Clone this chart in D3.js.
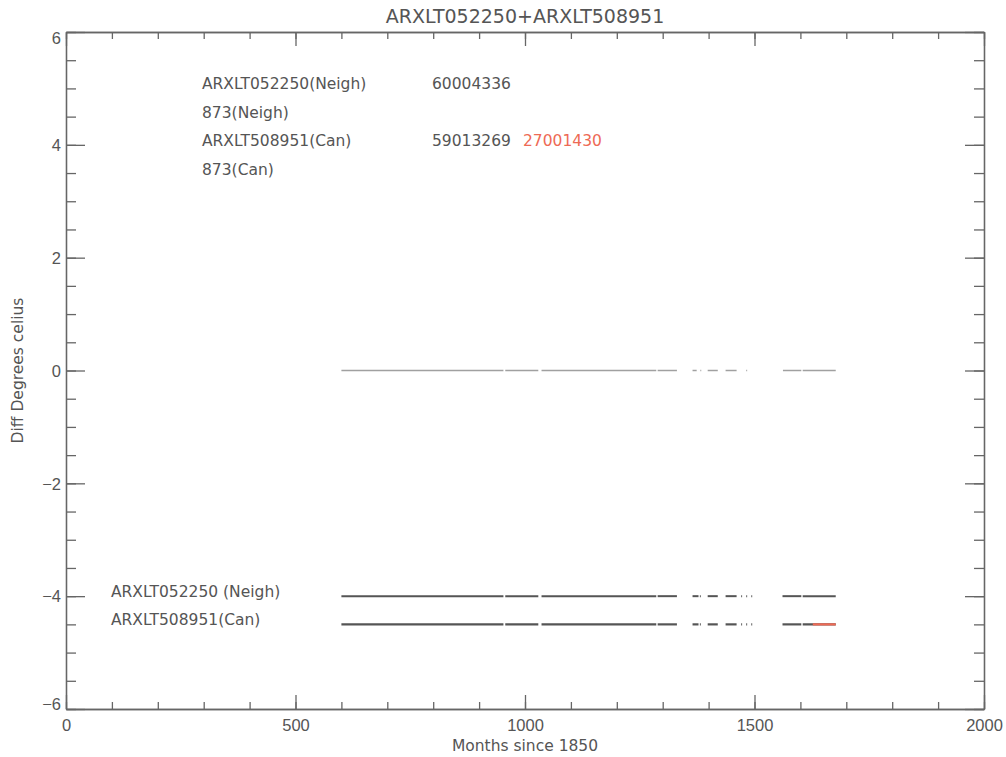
<!DOCTYPE html>
<html>
<head>
<meta charset="utf-8">
<script src="https://cdn.jsdelivr.net/npm/d3@7"></script>
<style>
  body { margin: 0; background: #fff; }
  svg { font-family: "DejaVu Sans", sans-serif; }
  .axis path, .axis line { stroke: #666; stroke-width: 1.3; }
  .axis text { fill: #555; font-size: 16.5px; }
</style>
</head>
<body>
<div id="chart"></div>
<script>
// month ranges with data
const neighSegments = [[600, 953], [957, 1029], [1036, 1286], [1289, 1331], [1365, 1378], [1381, 1383],
    [1398, 1420], [1437, 1461], [1471, 1473], [1482, 1484], [1493, 1495], [1561, 1602], [1605, 1677]];
const canSegments = neighSegments;
const canRedSegments = [[1627, 1677]];
const diffSegments = [[600, 953], [957, 1029], [1036, 1286], [1289, 1331], [1365, 1374], [1382, 1384],
    [1398, 1420], [1437, 1461], [1482, 1484], [1562, 1602], [1605, 1677]];

const levels = { diff: 0, neigh: -4, can: -4.5 };

const xMajor = [0, 500, 1000, 1500, 2000];
const xMinor = d3.range(0, 2001, 100);
const yMajor = [-6, -4, -2, 0, 2, 4, 6];
const yMinor = d3.range(-6, 6.01, 0.5);

const infoRows = [
    ['ARXLT052250(Neigh)', '60004336', ''],
    ['873(Neigh)', '', ''],
    ['ARXLT508951(Can)', '59013269', '27001430'],
    ['873(Can)', '', '']
];
const legendRows = [['ARXLT052250 (Neigh)', levels.neigh], ['ARXLT508951(Can)', levels.can]];

const W = 1006, H = 757;
const margin = { top: 32, right: 22, bottom: 48, left: 66 };
const textColor = '#555';

const svg = d3.select('#chart').append('svg')
    .attr('width', W)
    .attr('height', H);

const x = d3.scaleLinear().domain([0, 2000]).range([margin.left, W - margin.right]);
const y = d3.scaleLinear().domain([-6, 6]).range([H - margin.bottom, margin.top]);

// Axes: ticks point inward, like IDL
function plainAxis(axisFn, scale, values, size, pos) {
    svg.append('g')
        .attr('class', 'axis')
        .attr('transform', pos)
        .call(axisFn(scale).tickValues(values).tickSize(size).tickSizeOuter(0).tickFormat(''));
}

// minor ticks
plainAxis(d3.axisBottom, x, xMinor, -7, `translate(0,${y(-6)})`);
plainAxis(d3.axisTop, x, xMinor, -7, `translate(0,${y(6)})`);
plainAxis(d3.axisLeft, y, yMinor, -10, `translate(${x(0)},0)`);
plainAxis(d3.axisRight, y, yMinor, -10, `translate(${x(2000)},0)`);

// major ticks, no labels on top / right
plainAxis(d3.axisTop, x, xMajor, -14, `translate(0,${y(6)})`);
plainAxis(d3.axisRight, y, yMajor, -19, `translate(${x(2000)},0)`);

svg.append('g')
    .attr('class', 'axis')
    .attr('transform', `translate(0,${y(-6)})`)
    .call(d3.axisBottom(x).tickValues(xMajor).tickSize(-14).tickSizeOuter(0).tickPadding(10)
        .tickFormat(d3.format('d')));

const yAxis = svg.append('g')
    .attr('class', 'axis')
    .attr('transform', `translate(${x(0)},0)`)
    .call(d3.axisLeft(y).tickValues(yMajor).tickSize(-19).tickSizeOuter(0).tickPadding(5)
        .tickFormat(d => d < 0 ? '\u2212' + Math.abs(d) : d));

yAxis.selectAll('.tick text')
    .attr('dy', d => d === 6 ? '0.7em' : d === -6 ? '0.05em' : '0.35em');

// titles
svg.append('text')
    .attr('x', (x(0) + x(2000)) / 2)
    .attr('y', 23)
    .attr('text-anchor', 'middle')
    .style('font-size', '19px')
    .style('fill', textColor)
    .text('ARXLT052250+ARXLT508951');

svg.append('text')
    .attr('x', (x(0) + x(2000)) / 2)
    .attr('y', 751)
    .attr('text-anchor', 'middle')
    .style('font-size', '15.5px')
    .style('fill', textColor)
    .text('Months since 1850');

svg.append('text')
    .attr('transform', `translate(23,${y(0)}) rotate(-90)`)
    .attr('text-anchor', 'middle')
    .style('font-size', '15.5px')
    .style('fill', textColor)
    .text('Diff Degrees celius');

// series lines
const line = d3.line().x(d => x(d[0])).y(d => y(d[1]));

function drawSegments(segs, level, color, width) {
    svg.append('g')
        .selectAll('path')
        .data(segs)
        .join('path')
        .attr('d', s => line([[s[0], level], [s[1], level]]))
        .attr('fill', 'none')
        .attr('stroke', color)
        .attr('stroke-width', width);
}

drawSegments(diffSegments, levels.diff, '#a0a0a0', 1.5);
drawSegments(neighSegments, levels.neigh, '#555', 2);
drawSegments(canSegments, levels.can, '#555', 2.2);
drawSegments(canRedSegments, levels.can, '#ee6a55', 2.2);

// info text block
const info = svg.append('g').style('font-size', '15.5px');
infoRows.forEach((r, i) => {
    const ty = 89 + i * 28.5;
    info.append('text').attr('x', 202).attr('y', ty).style('fill', textColor).text(r[0]);
    info.append('text').attr('x', 432).attr('y', ty).style('fill', textColor).text(r[1]);
    info.append('text').attr('x', 523).attr('y', ty).style('fill', '#ee6a55').text(r[2]);
});

// legend labels next to the lines
svg.append('g')
    .selectAll('text')
    .data(legendRows)
    .join('text')
    .attr('x', 111)
    .attr('y', d => y(d[1]) + 1)
    .style('font-size', '15.5px')
    .style('fill', textColor)
    .text(d => d[0]);
</script>
</body>
</html>
